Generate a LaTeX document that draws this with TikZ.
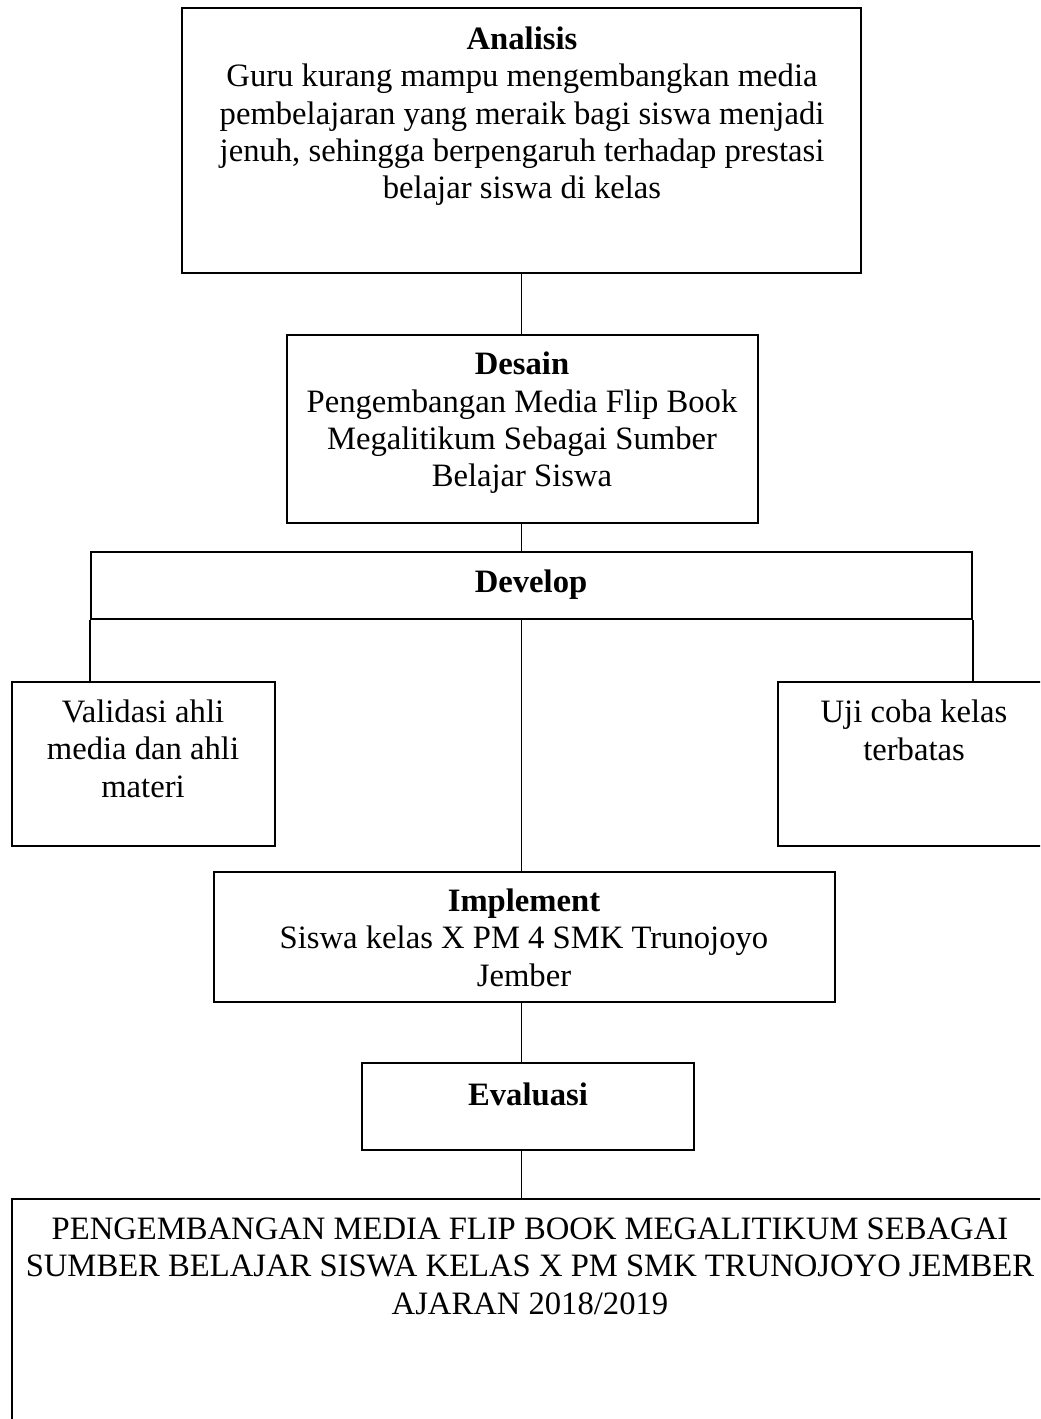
\documentclass[tikz,border=0pt]{standalone}
\usepackage{fontspec}
\setmainfont{Liberation Serif}
\usetikzlibrary{fit,calc}
\begin{document}
\begin{tikzpicture}[x=0.3676pt,y=-0.3676pt,
  box/.style={draw, line width=0.9pt, inner sep=0pt},
  txt/.style={align=center, inner sep=0pt, font=\fontsize{12}{13.75}\selectfont, anchor=base},
  link/.style={draw, line width=0.6pt}]
\useasboundingbox (0,0) rectangle (1040,1419);
\clip (0,0) rectangle (1040,1419);
% boxes
\node[box, fit={(182,8)(861,273)}] (an) {};
\node[box, fit={(287,335)(758,523)}] (de) {};
\node[box, fit={(91,552)(972,619)}] (dev) {};
\node[box, fit={(12,682)(275,846)}] (va) {};
\node[box, fit={(778,682)(1050,846)}] (uj) {};
\node[box, fit={(214,872)(835,1002)}] (im) {};
\node[box, fit={(362,1063)(694,1150)}] (ev) {};
\node[box, fit={(12,1199)(1048,1460)}] (ak) {};
% texts (anchor = baseline of last line)
\node[txt] (antx) at (522,199) {\textbf{Analisis}\\Guru kurang mampu mengembangkan media\\pembelajaran yang meraik bagi siswa menjadi\\jenuh, sehingga berpengaruh terhadap prestasi\\belajar siswa di kelas};
\node[txt] (detx) at (522,487) {\textbf{Desain}\\Pengembangan Media Flip Book\\Megalitikum Sebagai Sumber\\Belajar Siswa};
\node[txt] (devtx) at (531,593) {\textbf{Develop}};
\node[txt] (vatx) at (143,797) {Validasi ahli\\media dan ahli\\materi};
\node[txt] (ujtx) at (914,760) {Uji coba kelas\\terbatas};
\node[txt] (imtx) at (524,986) {\textbf{Implement}\\Siswa kelas X PM 4 SMK Trunojoyo\\Jember};
\node[txt] (evtx) at (528,1105) {\textbf{Evaluasi}};
\node[txt] (aktx) at (530,1314) {PENGEMBANGAN MEDIA FLIP BOOK MEGALITIKUM SEBAGAI\\SUMBER BELAJAR SISWA KELAS X PM SMK TRUNOJOYO JEMBER\\AJARAN 2018/2019};
% connectors
\draw[link] (an.south) -- (an.south |- de.north);
\draw[link] (an.south |- de.south) -- (an.south |- dev.north);
\draw[link] (an.south |- dev.south) -- (an.south |- im.north);
\draw[link] (an.south |- im.south) -- (an.south |- ev.north);
\draw[link] (an.south |- ev.south) -- (an.south |- ak.north);
\draw[link] (dev.south west) -- (dev.south west |- va.north);
\draw[link] (dev.south east) -- (dev.south east |- uj.north);
\end{tikzpicture}
\end{document}
